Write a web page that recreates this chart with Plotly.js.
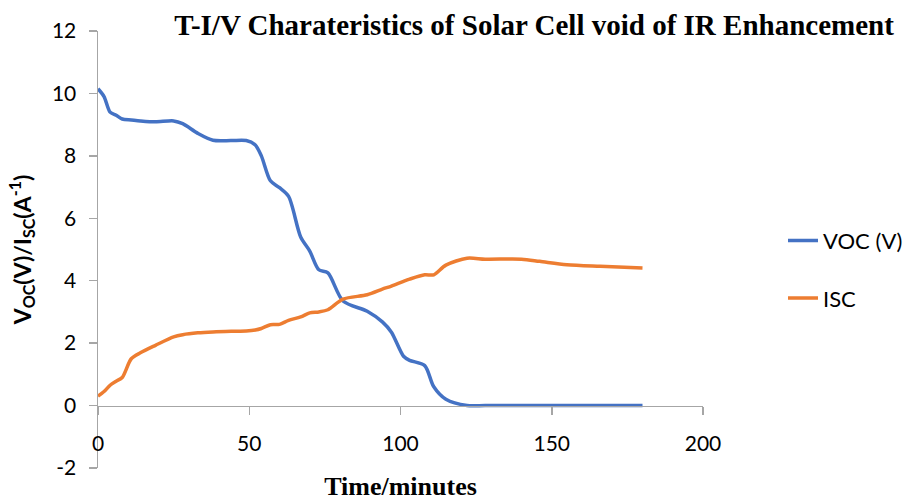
<!DOCTYPE html>
<html>
<head>
<meta charset="utf-8">
<script src="https://cdn.plot.ly/plotly-3.0.1.min.js"></script>
<style>html,body{margin:0;padding:0;background:#fff;}#chart{width:909px;height:504px;}</style>
</head>
<body>
<div id="chart"></div>
<script>
const timeMin = [0, 2, 4, 6, 8, 11, 14, 19, 25, 28, 33, 38, 44, 49, 52, 54, 57, 60, 63, 67, 70, 73, 76, 81, 89, 94, 97, 101, 103, 108, 111, 115, 122, 128, 140, 146, 155, 166, 180];
const vocV = [10.15, 9.9, 9.4, 9.3, 9.18, 9.15, 9.12, 9.09, 9.12, 9.03, 8.72, 8.5, 8.49, 8.49, 8.35, 8.0, 7.2, 6.98, 6.7, 5.4, 4.95, 4.35, 4.25, 3.35, 3.02, 2.68, 2.35, 1.58, 1.45, 1.28, 0.6, 0.2, 0, 0, 0, 0, 0, 0, 0];
const iscA = [0.3, 0.45, 0.65, 0.78, 0.9, 1.5, 1.69, 1.93, 2.2, 2.27, 2.33, 2.36, 2.38, 2.39, 2.42, 2.47, 2.59, 2.6, 2.73, 2.84, 2.97, 3.0, 3.07, 3.41, 3.55, 3.73, 3.83, 3.98, 4.05, 4.19, 4.19, 4.5, 4.72, 4.69, 4.69, 4.62, 4.51, 4.46, 4.41];
const seriesNames = ["VOC (V)", "ISC"];
const xTicks = [0, 50, 100, 150, 200];
const yTicks = [-2, 0, 2, 4, 6, 8, 10, 12];

const tickFont = {family: "Lato, 'Open Sans', sans-serif", size: 21, color: "#000"};
const axisColor = "#a6a6a6";

const traces = [
  {x: timeMin, y: vocV, name: seriesNames[0], type: "scatter", mode: "lines", legendgroup: "a",
   line: {color: "#4472C4", width: 3.5, shape: "spline", smoothing: 0.8}},
  {x: timeMin, y: iscA, name: seriesNames[1], type: "scatter", mode: "lines", legendgroup: "b",
   line: {color: "#ED7D31", width: 3.5, shape: "spline", smoothing: 0.8}}
];

const layout = {
  width: 909, height: 504,
  margin: {l: 98, r: 206, t: 31, b: 36, pad: 0},
  paper_bgcolor: "#fff", plot_bgcolor: "#fff",
  showlegend: true,
  title: {
    text: "T-I/V Charateristics of Solar Cell void of IR Enhancement",
    font: {family: "'Liberation Serif', 'Times New Roman', serif", size: 29, color: "#000", weight: "bold"},
    xref: "container", yref: "container", x: 0.5875, y: 0.95, xanchor: "center", yanchor: "middle"
  },
  xaxis: {
    range: [0, 200], tickvals: xTicks, ticktext: xTicks.map(String),
    anchor: "free", position: 2/14,
    showline: true, linecolor: axisColor, linewidth: 1.5,
    ticks: "outside", ticklen: 8, tickwidth: 1.5, tickcolor: axisColor,
    showgrid: false, zeroline: false,
    tickfont: tickFont, ticklabelstandoff: 11,
    title: {text: "Time/minutes", standoff: 22,
      font: {family: "'Liberation Serif', 'Times New Roman', serif", size: 26, color: "#000", weight: "bold"}}
  },
  yaxis: {
    range: [-2, 12], tickvals: yTicks, ticktext: yTicks.map(String),
    showline: true, linecolor: axisColor, linewidth: 1.5,
    ticks: "outside", ticklen: 8, tickwidth: 1.5, tickcolor: axisColor,
    showgrid: false, zeroline: false,
    tickfont: tickFont, ticklabelstandoff: 8,
    title: {text: "V<sub>OC</sub>(V)/I<sub>SC</sub>(A<sup>-1</sup>)", standoff: 14,
      font: {family: "Lato, 'Open Sans', sans-serif", size: 23, color: "#000", weight: "bold"}}
  },
  legend: {
    x: 783/909, xref: "container", y: 0.465, yref: "container", yanchor: "middle", xanchor: "left",
    font: {family: "Lato, 'Open Sans', sans-serif", size: 22, color: "#000"},
    traceorder: "grouped", tracegroupgap: 26, bgcolor: "rgba(0,0,0,0)"
  }
};

Plotly.newPlot("chart", traces, layout, {displayModeBar: false, staticPlot: true});
</script>
</body>
</html>
